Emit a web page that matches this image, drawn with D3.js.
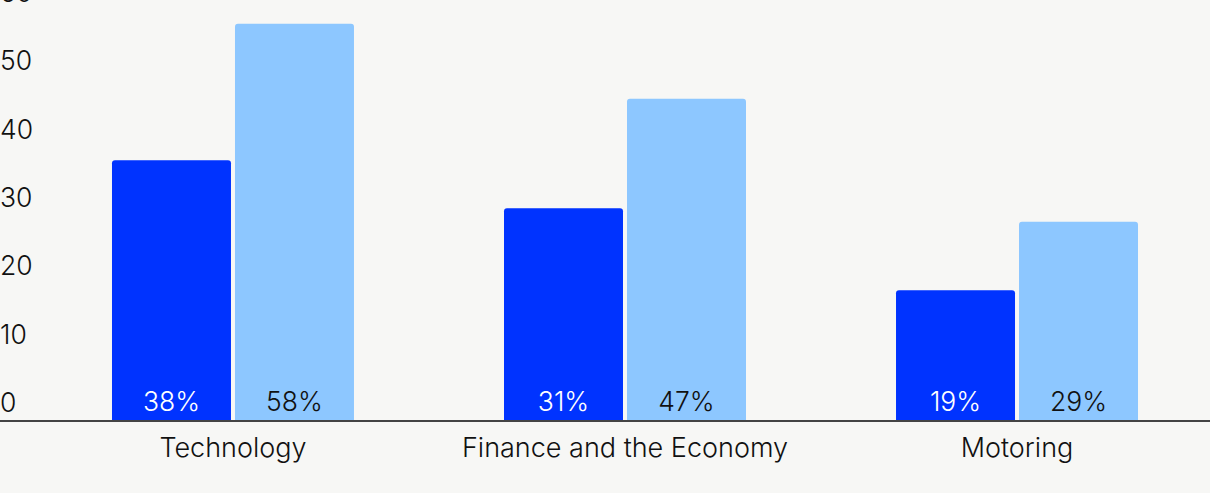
<!DOCTYPE html>
<html>
<head>
<meta charset="utf-8">
<script src="https://cdn.jsdelivr.net/npm/d3@7"></script>
<style>
  html, body { margin: 0; padding: 0; background: #f7f7f5; }
  svg { display: block; font-family: Inter, "Liberation Sans", Arial, sans-serif; font-weight: 300; }
</style>
</head>
<body>
<svg id="chart" width="1210" height="493"></svg>
<script>
const categories = ["Technology", "Finance and the Economy", "Motoring"];
const seriesNames = ["Series A", "Series B"];
const seriesA = [38, 31, 19];
const seriesB = [58, 47, 29];
const yTicks = [0, 10, 20, 30, 40, 50, 60];
const colors = ["#0033ff", "#8dc7ff"];
const labelColors = ["#ffffff", "#111111"];

const W = 1210, H = 493;
const FS = 26.5;
const svg = d3.select("#chart");
svg.append("rect").attr("width", W).attr("height", H).attr("fill", "#f7f7f5");

const y = d3.scaleLinear().domain([0, 60]).range([420, 10]);
const x0 = d3.scaleBand().domain(categories).range([37, 1213])
  .paddingInner(0.3827).paddingOuter(0.1913);
const x1 = d3.scaleBand().domain(seriesNames).range([0, x0.bandwidth()])
  .paddingInner(4 / 123).paddingOuter(0);

const data = categories.map((c, i) => ({
  cat: c,
  vals: [
    { s: seriesNames[0], v: seriesA[i], k: 0 },
    { s: seriesNames[1], v: seriesB[i], k: 1 }
  ]
}));

const yAxis = svg.append("g").attr("class", "y-axis");
yAxis.selectAll("text").data(yTicks).join("text")
  .attr("x", 0)
  .attr("y", d => y(d) - 8)
  .attr("font-size", FS)
  .attr("fill", "#111")
  .text(d => d);

function barPath(x, yTop, w, yBase, r) {
  r = Math.min(r, (yBase - yTop));
  return `M${x},${yBase}V${yTop + r}Q${x},${yTop} ${x + r},${yTop}H${x + w - r}Q${x + w},${yTop} ${x + w},${yTop + r}V${yBase}Z`;
}

const groups = svg.append("g").selectAll("g").data(data).join("g")
  .attr("transform", d => `translate(${x0(d.cat)},0)`);

groups.selectAll("path").data(d => d.vals).join("path")
  .attr("d", d => barPath(x1(d.s), y(d.v), x1.bandwidth(), y(0), 3))
  .attr("fill", d => colors[d.k]);

groups.selectAll("text.val").data(d => d.vals).join("text")
  .attr("class", "val")
  .attr("x", d => x1(d.s) + x1.bandwidth() / 2)
  .attr("y", y(0) - 9)
  .attr("text-anchor", "middle")
  .attr("font-size", FS)
  .attr("fill", d => labelColors[d.k])
  .text(d => d.v + "%");

const xAxis = d3.axisBottom(x0).tickSize(0).tickPadding(0);
const xg = svg.append("g").attr("transform", `translate(0,${y(0)})`).call(xAxis);
xg.select(".domain").remove();
xg.selectAll("text")
  .attr("font-size", 27)
  .attr("fill", "#111")
  .attr("font-family", "Inter, Liberation Sans, Arial, sans-serif")
  .attr("font-weight", 300)
  .attr("dy", null)
  .attr("y", 37);
svg.append("line")
  .attr("x1", 0).attr("x2", W)
  .attr("y1", y(0) + 1).attr("y2", y(0) + 1)
  .attr("stroke", "#444").attr("stroke-width", 2);
</script>
</body>
</html>
